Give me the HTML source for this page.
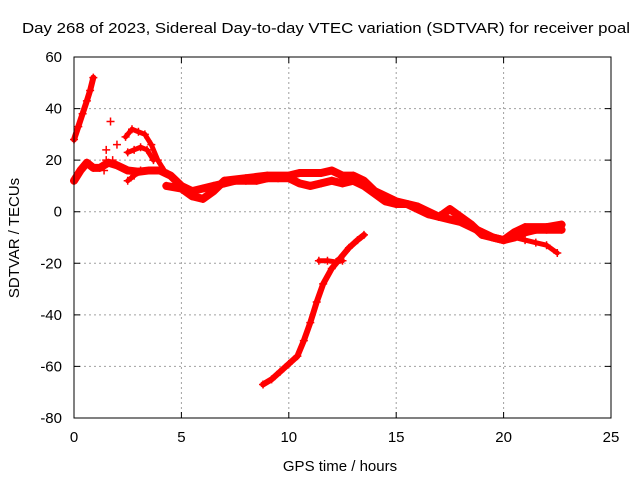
<!DOCTYPE html>
<html><head><meta charset="utf-8"><style>
body{margin:0;background:#fff;}
svg{display:block;font-family:"Liberation Sans",sans-serif;}
</style></head><body>
<svg id="chart" width="640" height="480" viewBox="0 0 640 480">
<text x="22" y="33" font-size="15" textLength="608" lengthAdjust="spacingAndGlyphs">Day 268 of 2023, Sidereal Day-to-day VTEC variation (SDTVAR) for receiver poal</text>
<text x="340" y="471" font-size="15" text-anchor="middle">GPS time / hours</text>
<text transform="translate(19,238) rotate(-90)" font-size="15" text-anchor="middle">SDTVAR / TECUs</text>
<g id="grid"></g><g id="ticks"></g><g id="series"></g>
<rect x="74" y="57" width="537" height="361" fill="none" stroke="#000" stroke-width="1"/>
</svg>
<script>
const xTicks=[0,5,10,15,20,25];
const yTicks=[60,40,20,0,-20,-40,-60,-80];
const mainLower=[[0,12],[0.3,16],[0.6,19],[0.9,17],[1.2,17],[1.6,19],[2,18],[2.5,16],[3,15.5],[3.5,16],[4,16],[4.5,14],[5,10],[5.5,8],[6,9],[6.5,10],[7,11],[7.5,12],[8,12],[8.5,12],[9,13],[9.5,13],[10,13],[10.5,11],[11,10],[11.5,11],[12,12],[12.5,11],[13,12],[13.5,10],[14,7],[14.5,4],[15,3],[15.5,3],[16,1],[16.5,-1],[17,-2],[17.5,-3],[18,-4],[18.5,-6],[19,-8],[19.5,-10],[20,-11],[20.5,-10],[21,-8],[21.5,-7],[22,-7],[22.7,-7]];
const mainUpper=[[4.3,10],[5,9],[5.5,6],[6,5],[6.5,8],[7,12],[8,13],[9,14],[10,14],[10.5,15],[11,15],[11.5,15],[12,16],[12.5,14],[13,14],[13.5,12],[14,8],[15,4],[16,2],[17,-2],[17.5,1],[18,-2],[18.5,-5],[19,-9],[20,-11],[20.5,-8],[21,-6],[22,-6],[22.7,-5]];
const mainBottom=[[20.5,-10],[21,-11],[21.5,-12],[22,-13],[22.5,-16]];
const steepRise=[[0,28],[0.2,33],[0.4,38],[0.6,43],[0.75,47],[0.9,52]];
const hump=[[2.4,29],[2.7,32],[3,31],[3.3,30],[3.6,26],[3.9,20],[4.2,16]];
const humpLower=[[2.5,23],[2.8,24],[3.1,25],[3.4,24],[3.7,20]];
const smallBranch=[[2.5,12],[2.8,14],[3.1,16]];
const scatter=[[1.5,20],[1.8,20],[2,26],[1.7,35],[1.5,24],[1.4,16]];
const negRise=[[8.8,-67],[9.2,-65],[9.6,-62],[10,-59],[10.4,-56],[10.7,-50],[11,-43],[11.3,-35],[11.6,-28],[12,-22],[12.4,-18],[12.8,-14],[13.2,-11],[13.5,-9]];
const negFlat=[[11.4,-19],[11.8,-19],[12.2,-19.5],[12.5,-19]];
const x=v=>74+v*537/25, y=v=>57+(60-v)*361/140;
const NS="http://www.w3.org/2000/svg";
function mk(t,p,a){const e=document.createElementNS(NS,t);for(const k in a)e.setAttribute(k,a[k]);p.appendChild(e);return e;}
const grid=document.getElementById('grid'),ticks=document.getElementById('ticks'),ser=document.getElementById('series');
xTicks.forEach(t=>{const X=x(t);
 if(t>0&&t<25){const g=mk('line',grid,{x1:X,x2:X,y1:57,y2:418,stroke:'#a0a0a0','stroke-dasharray':'2,3'});}
 const l=mk('path',ticks,{d:`M${X},418v-6M${X},57v6`,stroke:'#000'});
 const tx=mk('text',ticks,{x:X,y:442,'font-size':15,'text-anchor':'middle'});tx.textContent=t;});
yTicks.forEach(t=>{const Y=y(t);
 if(t<60&&t>-80){const g=mk('line',grid,{x1:74,x2:611,y1:Y,y2:Y,stroke:'#a0a0a0','stroke-dasharray':'2,3'});}
 const l=mk('path',ticks,{d:`M74,${Y}h6M611,${Y}h-6`,stroke:'#000'});
 const tx=mk('text',ticks,{x:62,y:Y+5,'font-size':15,'text-anchor':'end'});tx.textContent=t;});
function draw(arr,name,w){
 const p=mk('polyline',ser,{points:arr.map(d=>x(d[0])+','+y(d[1])).join(' '),fill:'none',stroke:'#ff0000','stroke-width':w,'stroke-linejoin':'round','stroke-linecap':'round'});
 
 arr.forEach(d=>{const X=x(d[0]),Y=y(d[1]);const m=mk('path',ser,{d:`M${X-4},${Y}h8M${X},${Y-4}v8`,stroke:'#ff0000','stroke-width':1.5});});
}
draw(mainLower,'main-lower-trace',8);
draw(mainUpper,'main-upper-trace',8);
draw(mainBottom,'bottom-branch',5);
draw(steepRise,'steep-rise',6);
draw(hump,'hump-trace',5);
draw(humpLower,'hump-lower-trace',5);
draw(smallBranch,'small-branch',5);
draw(negRise,'negative-rise',6);
draw(negFlat,'negative-flat',5);
scatter.forEach(d=>{const X=x(d[0]),Y=y(d[1]);const m=mk('path',ser,{d:`M${X-4},${Y}h8M${X},${Y-4}v8`,stroke:'#ff0000','stroke-width':1.5});});
</script>
</body></html>
